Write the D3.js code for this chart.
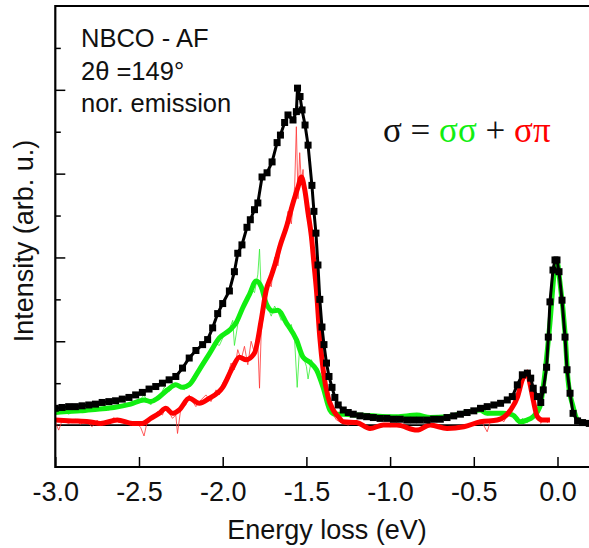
<!DOCTYPE html>
<html>
<head>
<meta charset="utf-8">
<script src="https://cdn.jsdelivr.net/npm/d3@7"></script>
<style>
html,body{margin:0;padding:0;background:#fff;}
svg{display:block;}
</style>
</head>
<body>
<div id="chart"></div>
<script>
// ---------- data (energy loss eV, intensity arb. u.) ----------
const xTicks = [-3.0, -2.5, -2.0, -1.5, -1.0, -0.5, 0.0];
const yMajorTicks = [1, 2, 3, 4];
const yMinorTicks = [0.5, 1.5, 2.5, 3.5, 4.5];

const blackData = [
[-3.00,0.20],[-2.96,0.21],[-2.92,0.22],[-2.88,0.22],[-2.84,0.23],[-2.80,0.24],[-2.76,0.25],[-2.72,0.27],
[-2.68,0.28],[-2.64,0.29],[-2.60,0.31],[-2.56,0.33],[-2.52,0.36],[-2.48,0.39],[-2.44,0.43],[-2.40,0.46],
[-2.36,0.50],[-2.32,0.54],[-2.28,0.58],[-2.24,0.68],[-2.20,0.80],[-2.16,0.89],[-2.12,0.96],[-2.09,1.02],
[-2.06,1.16],[-2.03,1.33],[-2.00,1.45],[-1.96,1.60],[-1.93,1.83],[-1.91,2.05],[-1.885,2.15],[-1.855,2.36],
[-1.835,2.45],[-1.81,2.57],[-1.79,2.65],[-1.765,2.96],[-1.735,3.01],[-1.705,3.14],[-1.675,3.37],[-1.655,3.46],
[-1.63,3.61],[-1.61,3.70],[-1.58,3.64],[-1.56,3.74],[-1.553,4.02],[-1.538,3.92],[-1.526,3.76],[-1.508,3.58],
[-1.49,3.34],[-1.467,2.86],[-1.455,2.55],[-1.443,2.29],[-1.431,1.91],[-1.42,1.50],[-1.407,1.17],[-1.395,0.96],
[-1.38,0.74],[-1.365,0.58],[-1.347,0.45],[-1.33,0.33],[-1.31,0.24],[-1.28,0.18],[-1.25,0.15],[-1.22,0.13],
[-1.18,0.11],[-1.14,0.10],[-1.10,0.09],[-1.06,0.08],[-1.02,0.08],[-0.98,0.07],[-0.94,0.07],[-0.90,0.06],
[-0.86,0.06],[-0.82,0.06],[-0.78,0.06],[-0.74,0.07],[-0.70,0.07],[-0.66,0.09],[-0.62,0.11],[-0.58,0.13],
[-0.54,0.15],[-0.50,0.17],[-0.46,0.20],[-0.42,0.22],[-0.38,0.24],[-0.34,0.26],[-0.30,0.30],[-0.27,0.34],
[-0.24,0.48],[-0.21,0.60],[-0.18,0.62],[-0.16,0.56],[-0.145,0.44],[-0.12,0.34],[-0.10,0.27],[-0.085,0.42],
[-0.065,0.69],[-0.055,1.05],[-0.045,1.47],[-0.027,1.85],[-0.015,1.97],[-0.003,1.97],[0.009,1.83],[0.027,1.49],
[0.045,1.05],[0.057,0.66],[0.075,0.38],[0.093,0.14],[0.12,0.05],[0.15,0.03],[0.19,0.02]
];

const greenData = [
[-3.00,0.15],[-2.95,0.16],[-2.85,0.17],[-2.75,0.19],[-2.65,0.21],[-2.55,0.25],[-2.47,0.30],[-2.43,0.28],
[-2.39,0.32],[-2.33,0.42],[-2.28,0.48],[-2.24,0.45],[-2.20,0.48],[-2.14,0.66],[-2.08,0.85],[-2.02,1.04],
[-1.96,1.13],[-1.92,1.22],[-1.88,1.40],[-1.84,1.56],[-1.80,1.72],[-1.77,1.65],[-1.74,1.45],[-1.70,1.36],
[-1.67,1.37],[-1.62,1.22],[-1.56,1.02],[-1.52,0.81],[-1.48,0.75],[-1.44,0.66],[-1.40,0.45],[-1.36,0.18],
[-1.33,0.13],[-1.28,0.13],[-1.20,0.12],[-1.10,0.11],[-1.00,0.10],[-0.96,0.10],[-0.84,0.12],[-0.76,0.09],
[-0.66,0.10],[-0.565,0.14],[-0.463,0.18],[-0.421,0.14],[-0.326,0.14],[-0.266,0.12],[-0.224,0.04],[-0.182,0.06],
[-0.146,0.10],[-0.105,0.22],[-0.075,0.62],[-0.045,1.22],[-0.015,1.89],[-0.003,1.95],[0.015,1.70],[0.045,1.10],
[0.063,0.54],[0.093,0.22],[0.122,0.06],[0.19,0.02]
];

const redData = [
[-3.00,0.06],[-2.90,0.05],[-2.80,0.04],[-2.73,0.02],[-2.63,0.06],[-2.54,0.02],[-2.48,0.02],[-2.43,0.08],
[-2.38,0.14],[-2.34,0.20],[-2.30,0.14],[-2.26,0.18],[-2.20,0.32],[-2.14,0.26],[-2.08,0.32],[-2.00,0.45],
[-1.94,0.69],[-1.90,0.81],[-1.86,0.78],[-1.81,0.86],[-1.77,1.25],[-1.74,1.61],[-1.71,1.78],[-1.68,1.97],
[-1.66,2.12],[-1.62,2.36],[-1.58,2.65],[-1.55,2.84],[-1.53,2.96],[-1.51,2.81],[-1.49,2.53],[-1.47,2.25],
[-1.455,1.93],[-1.44,1.61],[-1.42,1.05],[-1.40,0.66],[-1.37,0.33],[-1.34,0.18],[-1.31,0.10],[-1.28,0.04],
[-1.20,0.03],[-1.12,-0.04],[-1.04,0.00],[-0.96,0.00],[-0.84,-0.06],[-0.76,0.00],[-0.66,-0.04],[-0.56,-0.02],
[-0.46,0.04],[-0.36,0.06],[-0.28,0.18],[-0.24,0.33],[-0.21,0.54],[-0.18,0.63],[-0.165,0.50],[-0.145,0.30],
[-0.12,0.10],[-0.09,0.06],[-0.045,0.06]
];

const rawRedData = [
[-3.00,0.04],[-2.98,-0.06],[-2.96,0.05],[-2.92,0.02],[-2.88,0.07],[-2.85,0.01],[-2.82,0.05],[-2.78,-0.02],
[-2.75,0.06],[-2.72,0.00],[-2.68,0.04],[-2.65,0.09],[-2.62,0.03],[-2.58,0.05],[-2.55,0.00],[-2.52,0.04],
[-2.49,-0.03],[-2.47,-0.13],[-2.45,0.05],[-2.42,0.10],[-2.39,0.16],[-2.36,0.12],[-2.34,0.22],[-2.32,0.15],
[-2.30,0.08],[-2.28,0.12],[-2.27,-0.10],[-2.25,0.20],[-2.22,0.24],[-2.20,0.36],[-2.18,0.28],[-2.16,0.22],
[-2.13,0.30],[-2.10,0.36],[-2.07,0.28],[-2.04,0.42],[-2.02,0.36],[-2.00,0.50],[-1.97,0.60],[-1.95,0.74],
[-1.93,0.66],[-1.91,0.90],[-1.89,0.78],[-1.87,0.94],[-1.85,0.72],[-1.83,1.00],[-1.81,0.86],[-1.79,0.96],
[-1.78,0.44],[-1.77,1.10],[-1.75,1.45],[-1.73,1.72],[-1.71,1.65],[-1.69,2.00],[-1.67,1.90],[-1.65,2.20],
[-1.63,2.30],[-1.61,2.55],[-1.59,2.40],[-1.57,2.85],[-1.56,3.56],[-1.55,2.70],[-1.54,3.25],[-1.53,2.90],
[-1.52,3.05],[-1.51,2.70],[-1.49,2.45],[-1.47,2.10],[-1.45,1.85],[-1.43,1.30],[-1.41,0.80],[-1.39,0.50],
[-1.37,0.30],[-1.35,0.15],[-1.32,0.06],[-1.28,0.02],[-1.25,0.00],[-1.20,0.04],[-1.15,-0.03],[-1.10,-0.05],
[-1.05,0.01],[-1.00,-0.02],[-0.95,0.02],[-0.90,-0.03],[-0.85,-0.07],[-0.80,-0.03],[-0.75,0.01],[-0.70,-0.03],
[-0.65,-0.05],[-0.60,-0.02],[-0.55,-0.01],[-0.50,0.02],[-0.45,0.03],[-0.42,-0.08],[-0.40,0.05],[-0.35,0.08],
[-0.32,0.04],[-0.29,0.16],[-0.26,0.25],[-0.24,0.35],[-0.22,0.50],[-0.20,0.62],[-0.19,0.55],[-0.18,0.66],
[-0.16,0.48],[-0.14,0.25],[-0.12,0.12],[-0.10,0.02],[-0.08,0.08],[-0.06,0.03],[-0.045,0.07]
];

const rawGreenData = [
[-3.00,0.14],[-2.96,0.17],[-2.92,0.13],[-2.88,0.18],[-2.84,0.15],[-2.80,0.19],[-2.76,0.17],[-2.72,0.20],
[-2.68,0.18],[-2.64,0.22],[-2.60,0.21],[-2.56,0.26],[-2.52,0.25],[-2.49,0.31],[-2.47,0.36],[-2.45,0.28],
[-2.43,0.24],[-2.40,0.33],[-2.37,0.36],[-2.35,0.45],[-2.32,0.40],[-2.29,0.50],[-2.26,0.46],[-2.23,0.42],
[-2.20,0.50],[-2.17,0.60],[-2.14,0.64],[-2.11,0.78],[-2.08,0.82],[-2.05,0.98],[-2.02,0.95],[-1.99,1.08],
[-1.96,1.15],[-1.94,1.25],[-1.93,0.95],[-1.91,1.20],[-1.89,1.35],[-1.87,1.45],[-1.85,1.52],[-1.83,1.62],
[-1.81,1.58],[-1.79,1.80],[-1.78,2.10],[-1.77,1.60],[-1.75,1.55],[-1.73,1.40],[-1.71,1.30],[-1.69,1.42],
[-1.67,1.35],[-1.65,1.25],[-1.63,1.30],[-1.61,1.15],[-1.59,1.20],[-1.57,1.00],[-1.555,0.45],[-1.54,0.95],
[-1.52,0.82],[-1.50,0.70],[-1.49,0.55],[-1.47,0.78],[-1.45,0.68],[-1.43,0.62],[-1.41,0.50],[-1.39,0.35],
[-1.37,0.20],[-1.34,0.14],[-1.30,0.12],[-1.20,0.13],[-1.10,0.10],[-1.00,0.12],[-0.90,0.09],[-0.84,0.14],
[-0.76,0.08],[-0.66,0.11],[-0.56,0.15],[-0.46,0.19],[-0.42,0.12],[-0.33,0.15],[-0.27,0.11],[-0.23,0.02],
[-0.21,0.08],[-0.18,0.03],[-0.15,0.11],[-0.11,0.20],[-0.075,0.60],[-0.045,1.20],[-0.015,1.88],[-0.003,1.93],
[0.015,1.72],[0.045,1.12],[0.063,0.56],[0.093,0.22],[0.122,0.07],[0.19,0.02]
];

const infoLines = ["NBCO - AF", "2\u03B8 =149\u00B0", "nor. emission"];

// ---------- drawing ----------
const W = 589, H = 548;
const L = 55.3, T = 6, R = 589.3, B = 467;

const svg = d3.select("#chart").append("svg").attr("width", W).attr("height", H);

const x = d3.scaleLinear().domain([-3.0, 0.19]).range([L, R]);
const y = d3.scaleLinear().domain([-0.5, 5.0]).range([B, T]);

svg.append("defs").append("clipPath").attr("id", "clip")
  .append("rect").attr("x", L).attr("y", T).attr("width", R - L).attr("height", B - T);

const plot = svg.append("g").attr("clip-path", "url(#clip)");

// zero line
plot.append("line").attr("x1", L).attr("x2", R).attr("y1", y(0)).attr("y2", y(0))
  .attr("stroke", "#000").attr("stroke-width", 1.6);

const lineGen = d3.line().x(d => x(d[0])).y(d => y(d[1]));
const smoothGen = d3.line().x(d => x(d[0])).y(d => y(d[1])).curve(d3.curveMonotoneX);

plot.append("path").datum(rawGreenData).attr("d", lineGen)
  .attr("fill", "none").attr("stroke", "#33ee33").attr("stroke-width", 1).attr("stroke-opacity", 0.8);
plot.append("path").datum(rawRedData).attr("d", lineGen)
  .attr("fill", "none").attr("stroke", "#ff3333").attr("stroke-width", 1).attr("stroke-opacity", 0.8);

plot.append("path").datum(greenData).attr("d", smoothGen)
  .attr("fill", "none").attr("stroke", "#11ee11").attr("stroke-width", 5).attr("stroke-linejoin", "round");
plot.append("path").datum(redData).attr("d", smoothGen)
  .attr("fill", "none").attr("stroke", "#ff0000").attr("stroke-width", 5).attr("stroke-linejoin", "round");

plot.append("path").datum(blackData).attr("d", lineGen)
  .attr("fill", "none").attr("stroke", "#000").attr("stroke-width", 3);
plot.selectAll("rect.mk").data(blackData).enter().append("rect").attr("class", "mk")
  .attr("x", d => x(d[0]) - 3.5).attr("y", d => y(d[1]) - 3.5)
  .attr("width", 7).attr("height", 7).attr("fill", "#000");

// axes
const axisFont = "'Liberation Sans', Arial, sans-serif";

const xAxis = d3.axisBottom(x).tickValues(xTicks).tickSize(-10).tickPadding(15)
  .tickFormat(d => d.toFixed(1));
const gx = svg.append("g").attr("transform", `translate(0,${B})`).call(xAxis);
gx.select(".domain").remove();
gx.selectAll(".tick line").attr("stroke", "#000").attr("stroke-width", 1.5);
gx.selectAll(".tick text").attr("font-family", axisFont).attr("font-size", 27).attr("fill", "#111");

const yMaj = d3.axisLeft(y).tickValues(yMajorTicks).tickSize(-10).tickFormat("");
const gy1 = svg.append("g").attr("transform", `translate(${L},0)`).call(yMaj);
gy1.select(".domain").remove();
gy1.selectAll(".tick line").attr("stroke", "#000").attr("stroke-width", 1.5);
const yMin = d3.axisLeft(y).tickValues(yMinorTicks).tickSize(-5.5).tickFormat("");
const gy2 = svg.append("g").attr("transform", `translate(${L},0)`).call(yMin);
gy2.select(".domain").remove();
gy2.selectAll(".tick line").attr("stroke", "#000").attr("stroke-width", 1.5);

// frame
svg.append("path").attr("d", `M${R},${T}H${L}V${B}H${R}`)
  .attr("fill", "none").attr("stroke", "#000").attr("stroke-width", 2.2);

// axis titles
svg.append("text").attr("x", 327).attr("y", 539).attr("text-anchor", "middle")
  .attr("font-family", axisFont).attr("font-size", 27).attr("fill", "#111")
  .text("Energy loss (eV)");
svg.append("text").attr("transform", "translate(33,241) rotate(-90)").attr("text-anchor", "middle")
  .attr("font-family", axisFont).attr("font-size", 27).attr("fill", "#111")
  .text("Intensity (arb. u.)");

// info text
svg.selectAll("text.info").data(infoLines).enter().append("text").attr("class", "info")
  .attr("x", 81).attr("y", (d, i) => 47 + i * 32.5)
  .attr("font-family", axisFont).attr("font-size", 25.5).attr("fill", "#111")
  .text(d => d);

// legend formula
const lg = svg.append("text").attr("x", 383).attr("y", 142)
  .attr("font-family", "'Liberation Serif', 'DejaVu Serif', serif").attr("font-size", 35);
lg.append("tspan").attr("fill", "#111").text("\u03C3 = ");
lg.append("tspan").attr("fill", "#11ee11").text("\u03C3\u03C3");
lg.append("tspan").attr("fill", "#111").text(" + ");
lg.append("tspan").attr("fill", "#ff0000").text("\u03C3\u03C0");
</script>
</body>
</html>
